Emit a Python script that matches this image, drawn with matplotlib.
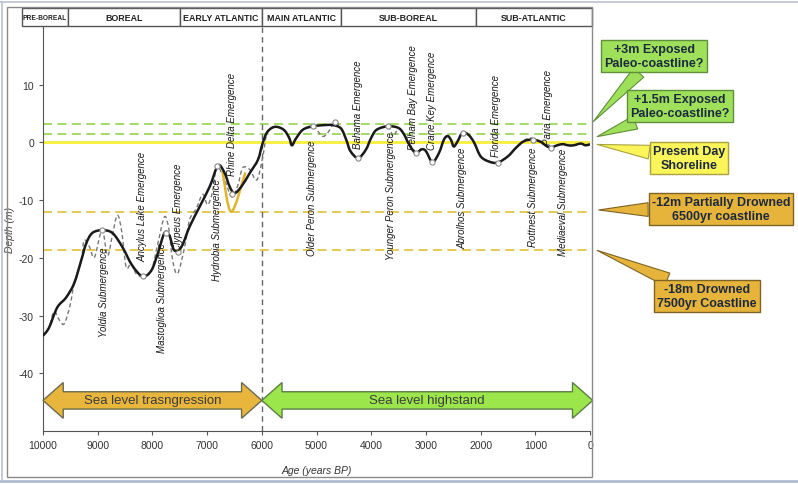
import matplotlib
matplotlib.use('Agg')
import matplotlib.pyplot as plt
import numpy as np
from matplotlib.path import Path
from matplotlib.patches import PathPatch, Rectangle, Polygon
from matplotlib.lines import Line2D
from matplotlib.transforms import blended_transform_factory

plt.rcParams['font.family'] = ['Liberation Sans', 'DejaVu Sans']
plt.rcParams['axes.unicode_minus'] = False

# ---- data ----
# smoothed sea-level curve, years BP / depth in m
curve_years = [10000, 9890, 9740, 9580, 9430, 9300, 9210, 9100, 8920, 8730, 8550, 8370, 8180,
               8020, 7900, 7780, 7690, 7600, 7470, 7320, 7140, 6950, 6800, 6680, 6590, 6500,
               6370, 6220, 6070, 5990, 5900, 5760, 5600, 5500, 5450, 5380, 5250, 5060, 4850,
               4700, 4550, 4450, 4380, 4240, 4100, 4000, 3900, 3690, 3500, 3400, 3310, 3190,
               3080, 3000, 2880, 2760, 2670, 2600, 2540, 2490, 2420, 2330, 2220, 2120, 2000,
               1850, 1690, 1500, 1350, 1210, 1050, 900, 800, 720, 600, 500, 400, 300, 170, 80, 0]
curve_depth = [-33.5, -32.1, -28.6, -26.9, -24.4, -20.4, -17.5, -15.7, -15.2, -15.7, -18.1, -21.3, -23.2,
               -22.2, -19.2, -15.7, -16.1, -18.7, -18.1, -14.6, -11.2, -7.6, -4.0, -5.3, -7.6, -8.8,
               -7.6, -5.3, -3.0, -0.3, 1.8, 2.7, 2.2, 0.8, -0.5, 0.6, 2.2, 2.8, 3.0,
               3.0, 2.4, 0.3, -1.5, -2.7, -1.3, 0.8, 2.2, 2.8, 2.5, 1.4, -0.3, -1.8,
               -1.2, -1.5, -3.4, -1.8, 0.5, 1.1, 0.4, -0.7, 0.2, 1.7, 1.3, 0.0, -2.4,
               -3.3, -3.5, -2.4, -0.9, 0.2, 0.5, 0.1, -0.6, -0.9, -0.5, -0.3, -0.5, -0.5, -0.2, -0.5, -0.3]

# raw (dashed) record
raw_years = [10000, 9890, 9800, 9700, 9610, 9500, 9430, 9300, 9250, 9150, 9060, 8920, 8820, 8730,
             8640, 8560, 8480, 8390, 8300, 8180, 8020, 7900, 7780, 7700, 7630, 7540, 7410, 7320,
             7200, 7080, 6990, 6900, 6820, 6680, 6550, 6440, 6350, 6220, 6090, 5980, 5900, 5760,
             5600, 5500, 5450, 5380, 5250, 5060, 4900, 4800, 4660, 4550, 4450, 4380, 4240, 4100,
             4000, 3900, 3690, 3600, 3500, 3400, 3310, 3190, 3080, 3000, 2880, 2760, 2670, 2600,
             2540, 2490, 2420, 2330, 2220, 2120, 2000, 1850, 1690, 1500, 1350, 1210, 1100, 1000,
             900, 800, 720, 600, 500, 400, 300, 170, 80, 0]
raw_depth = [-33.5, -32.1, -29.3, -30.8, -31.4, -28.0, -24.4, -20.4, -17.0, -18.1, -19.9, -15.2, -19.6, -16.0,
             -12.6, -15.5, -21.6, -21.0, -22.7, -23.2, -22.2, -17.5, -12.9, -15.0, -20.4, -22.7, -18.1, -13.4,
             -11.5, -9.0, -10.8, -8.5, -4.2, -6.5, -9.4, -7.5, -4.4, -4.7, -6.5, -2.4, 1.8, 2.7,
             2.2, 0.8, -0.5, 0.6, 2.2, 2.8, 1.1, 1.6, 3.5, 2.4, 0.3, -1.5, -2.7, -1.3,
             0.8, 2.2, 2.8, 1.1, 2.4, 1.4, -0.3, -1.8, -1.2, -1.5, -3.4, -1.8, 0.5, 1.1,
             0.4, -0.7, 0.2, 1.7, 1.3, 0.0, -2.4, -3.3, -3.5, -2.4, -0.9, 0.3, 0.8, 0.5,
             0.1, -0.6, -0.9, -0.5, -0.3, -0.5, -0.5, -0.2, -0.5, -0.3]

# Rhine delta alternative (gold)
rhine_years = [6720, 6560, 6300]
rhine_depth = [-4.9, -12.0, -5.2]

marker_years = [8920, 8180, 7760, 7540, 6820, 6540, 5060, 4660, 4240, 3690, 3190, 2880, 2330, 1690, 1050, 720]
marker_depth = [-15.2, -23.2, -15.7, -19.0, -4.1, -9.0, 2.8, 3.5, -2.7, 2.8, -1.8, -3.4, 1.7, -3.5, 0.5, -0.9]

event_names = ['Yoldia Submergence', 'Ancylus Lake Emergence', 'Mastoglioa Submergence',
               'Clypeus Emergence', 'Hydrobia Submergence', 'Rhine Delta Emergence',
               'Older Peron Submergence', 'Bahama Emergence', 'Younger Peron Submergence',
               'Pelham Bay Emergence', 'Crane Key Emergence', 'Abrolhos Submergence',
               'Florida Emergence', 'Rottnest Submergence', 'Paria Emergence', 'Mediaeval Submergence']
event_years = [8880, 8180, 7830, 7540, 6810, 6550, 5080, 4250, 3640, 3230, 2880, 2330, 1720, 1040, 760, 490]
event_depth = [-18.0, -20.5, -17.3, -18.7, -6.1, -5.6, 0.5, -0.9, 1.9, -1.2, -1.2, -0.7, -2.4, -0.7, -0.3, -0.9]

periods = ['PRE-BOREAL', 'BOREAL', 'EARLY ATLANTIC', 'MAIN ATLANTIC', 'SUB-BOREAL', 'SUB-ATLANTIC']
period_edges = [10390, 9540, 7490, 6000, 4560, 2075, -30]

phases = ['Sea level trasngression', 'Sea level highstand']
phase_start = [10000, 6000]
phase_end = [6000, -50]

ref_levels = [3.2, 1.5, 0.0, -12.0, -18.6]
ref_colors = ['#9bd85a', '#9bd85a', '#f7ef3a', '#e3c547', '#e3c547']
ref_styles = ['--', '--', '-', '--', '--']

callout_text = ['+3m Exposed\nPaleo-coastline?', '+1.5m Exposed\nPaleo-coastline?',
                'Present Day\nShoreline', '-12m Partially Drowned\n6500yr coastline',
                '-18m Drowned\n7500yr Coastline']
callout_tip = [(-60, 3.6), (-130, 1.0), (-130, -0.35), (-160, -11.7), (-130, -18.7)]
callout_px = [(654, 57), (680, 107), (689, 159), (721, 210), (707, 297)]
callout_fc = ['#9ee05a', '#9ee05a', '#fbf55a', '#e6b43a', '#e6b43a']
callout_ec = ['#5f8f3a', '#5f8f3a', '#a9a340', '#7d6425', '#7d6425']

W, H = 798, 485


def fx(px):
    return px / W


def fy(py):
    return 1 - py / H


def smooth_path(xs, ys):
    # Catmull-Rom style bezier through the read points (like a spreadsheet smoothed line)
    pts = np.column_stack([xs, ys]).astype(float)
    verts = [pts[0]]
    codes = [Path.MOVETO]
    n = len(pts)
    for i in range(n - 1):
        p0 = pts[i - 1] if i > 0 else pts[i]
        p1, p2 = pts[i], pts[i + 1]
        p3 = pts[i + 2] if i + 2 < n else pts[i + 1]
        verts += [p1 + (p2 - p0) / 6, p2 - (p3 - p1) / 6, p2]
        codes += [Path.CURVE4] * 3
    return Path(verts, codes)


fig = plt.figure(figsize=(W / 100, H / 100), dpi=100)
ax = fig.add_axes([fx(43), fy(432), fx(590) - fx(43), fy(28) - fy(432)])
ax.set_xlim(10000, 0)
ax.set_ylim(-50, 20)

# outer frames
fig.add_artist(Line2D([0, 1], [fy(3), fy(3)], color='#b9c3cf', lw=1.2))
fig.add_artist(Line2D([0, 1], [fy(482), fy(482)], color='#aebbd0', lw=2.0))
fig.add_artist(Line2D([fx(2), fx(2)], [fy(3), fy(482)], color='#b9c3cf', lw=1.2))
fig.add_artist(Rectangle((fx(7), fy(478)), fx(592) - fx(7), fy(8) - fy(478),
                         fill=False, ec='#8a8a8a', lw=1.0, transform=fig.transFigure))

# reference levels
for lev, col, ls in zip(ref_levels, ref_colors, ref_styles):
    if ls == '-':
        ax.axhline(lev, color=col, lw=2.0, zorder=2)
    else:
        ax.axhline(lev, color=col, ls='--', lw=1.3, dashes=(5, 3), zorder=2)

ax.axvline(6000, color='#666666', ls='--', lw=1.0, dashes=(4, 3), zorder=2)

ax.add_patch(PathPatch(smooth_path(raw_years, raw_depth), fill=False, ec='#777777', lw=1.0,
                       ls=(0, (3, 2)), zorder=3))
ax.add_patch(PathPatch(smooth_path(rhine_years, rhine_depth), fill=False, ec='#e0b52c', lw=1.8, zorder=3))
ax.add_patch(PathPatch(smooth_path(curve_years, curve_depth), fill=False, ec='#1a1a1a', lw=1.8, zorder=4))
ax.scatter(marker_years, marker_depth, s=14, facecolor='white', edgecolor='#8a8a8a', lw=0.8, zorder=5)

# event labels
for name, yr, d in zip(event_names, event_years, event_depth):
    va = 'bottom' if name.endswith(' Emergence') else 'top'
    ax.text(yr, d, name, rotation=90, ha='center', va=va, fontsize=7, style='italic',
            color='#1a1a1a', zorder=6)

# phase arrows
yc, body, head, hlen = -44.7, 1.5, 3.1, 370
arrow_fc = ['#e8b63c', '#9be64b']
arrow_ec = ['#6b6b50', '#5d7d45']
for name, x0, x1, fc, ec in zip(phases, phase_start, phase_end, arrow_fc, arrow_ec):
    a, b = x0, x1
    pts = [(a, yc), (a - hlen, yc + head), (a - hlen, yc + body), (b + hlen, yc + body),
           (b + hlen, yc + head), (b, yc), (b + hlen, yc - head), (b + hlen, yc - body),
           (a - hlen, yc - body), (a - hlen, yc - head)]
    ax.add_patch(Polygon(pts, closed=True, fc=fc, ec=ec, lw=1.0, zorder=4, clip_on=False))
    ax.text((a + b) / 2, yc, name, ha='center', va='center', fontsize=9.5, color='#3c3c3c', zorder=5)

# period header
tr = blended_transform_factory(ax.transData, fig.transFigure)
for name, x0, x1 in zip(periods, period_edges[:-1], period_edges[1:]):
    ax.add_patch(Rectangle((x0, fy(27)), x1 - x0, fy(9) - fy(27), transform=tr, fill=True,
                           fc='white', ec='#555555', lw=1.0, clip_on=False))
    ax.text((x0 + x1) / 2, (fy(9) + fy(27)) / 2, name, transform=tr, ha='center', va='center',
            fontsize=4.8 if name == 'PRE-BOREAL' else 6.4, weight='bold', color='#222222')

# callouts
for txt, tip, (px, py), fc, ec in zip(callout_text, callout_tip, callout_px, callout_fc, callout_ec):
    ax.annotate(txt, xy=tip, xycoords='data', xytext=(fx(px), fy(py)), textcoords='figure fraction',
                ha='center', va='center', fontsize=9, weight='bold', color='#1d2a3e',
                multialignment='center', annotation_clip=False, zorder=7,
                bbox=dict(boxstyle='square,pad=0.25', fc=fc, ec=ec, lw=1.0),
                arrowprops=dict(arrowstyle='wedge,tail_width=1.1,shrink_factor=0.5', fc=fc, ec=ec,
                                lw=0.8, shrinkA=0, shrinkB=0))

# axes styling
for s in ['top', 'right']:
    ax.spines[s].set_visible(False)
for s in ['left', 'bottom']:
    ax.spines[s].set_color('#555555')
ax.set_yticks([10, 0, -10, -20, -30, -40])
ax.set_xticks(np.arange(10000, -1, -1000))
ax.tick_params(labelsize=7.5, colors='#555555', labelcolor='#333333', length=3, width=0.8)
ax.set_ylabel('Depth (m)', fontsize=7.5, style='italic', color='#444444')
ax.yaxis.set_label_coords(-0.052, 0.5)
ax.set_xlabel('Age (years BP)', fontsize=7.5, style='italic', color='#333333', labelpad=11)
ax.patch.set_alpha(0)

fig.savefig('out.png', dpi=100)
